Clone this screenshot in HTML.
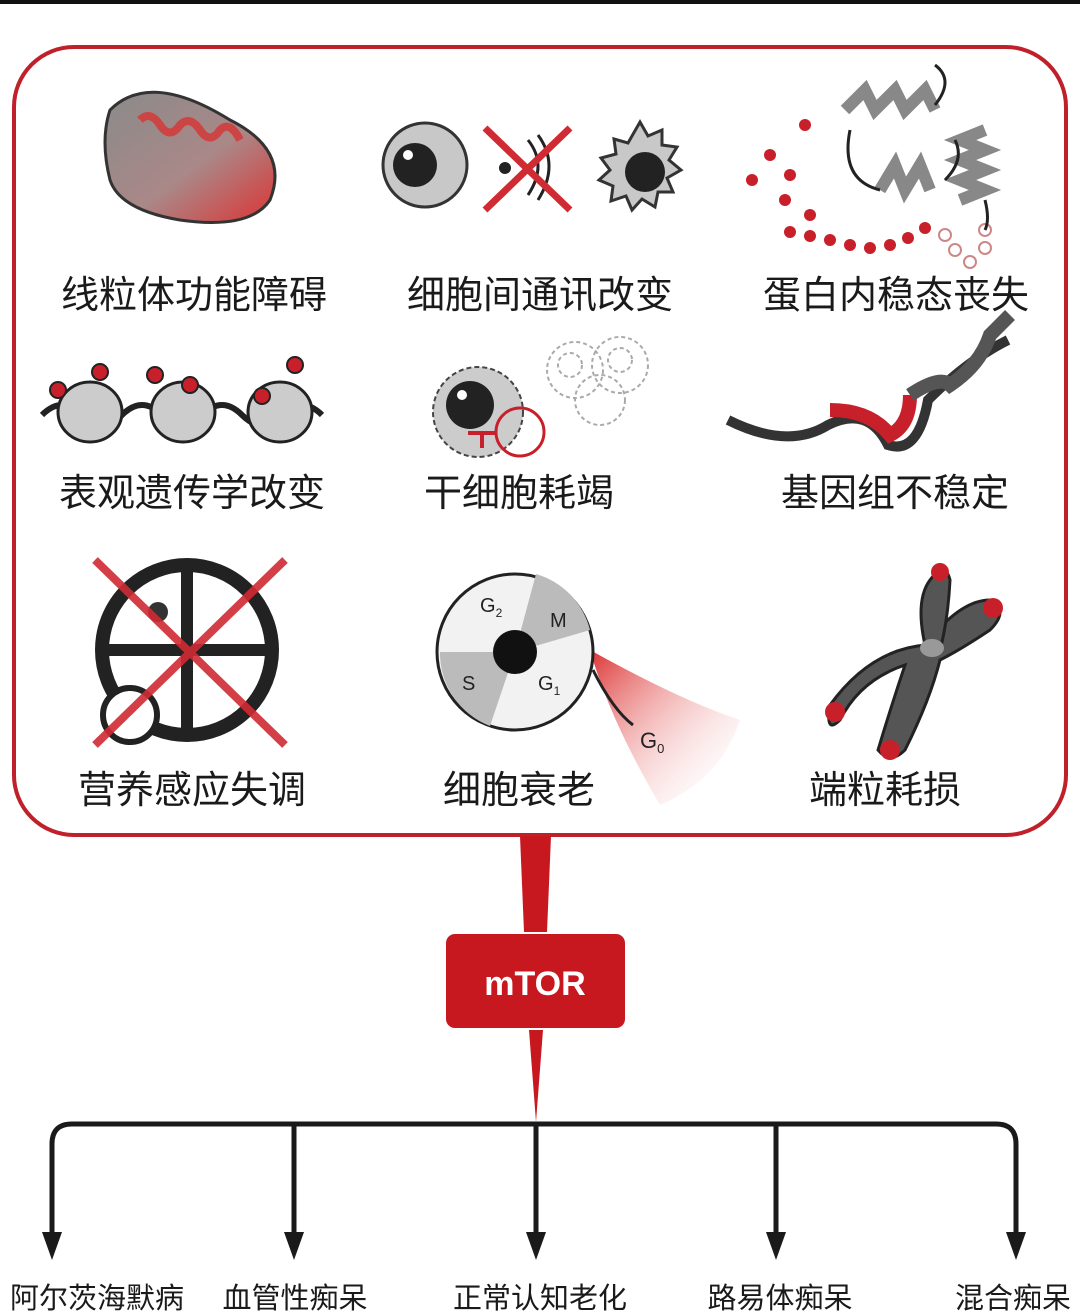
<!DOCTYPE html>
<html><head><meta charset="utf-8"><style>
html,body{margin:0;padding:0;background:#fff;}
svg{display:block;}
text{font-family:"Liberation Sans","Noto Sans CJK SC",sans-serif;}
</style></head><body>
<svg width="1080" height="1312" viewBox="0 0 1080 1312" xmlns="http://www.w3.org/2000/svg">
<defs>
<linearGradient id="mito" x1="0" y1="0" x2="1" y2="1"><stop offset="0" stop-color="#8a8a8a"/><stop offset="0.55" stop-color="#a88"/><stop offset="1" stop-color="#d33"/></linearGradient>
<linearGradient id="g0" x1="0" y1="0" x2="1" y2="1"><stop offset="0" stop-color="#d33"/><stop offset="1" stop-color="#fff" stop-opacity="0"/></linearGradient>
</defs>
<rect x="0" y="0" width="1080" height="4" fill="#111"/>
<rect x="14" y="47" width="1052" height="788" rx="60" fill="none" stroke="#c0202a" stroke-width="4"/>

<polygon points="520,836 551,836 547,932 524,932" fill="#c8181f"/>
<rect x="446" y="934" width="179" height="94" rx="9" fill="#c8181f"/>
<text x="535" y="995" font-size="34" font-weight="bold" fill="#fff" text-anchor="middle">mTOR</text>
<polygon points="529,1030 543,1030 536,1122" fill="#c8181f"/>
<path d="M52,1240 V1144 Q52,1124 72,1124 H996 Q1016,1124 1016,1144 V1240" fill="none" stroke="#1a1a1a" stroke-width="5"/>
<g stroke="#1a1a1a" stroke-width="5">
<line x1="294" y1="1124" x2="294" y2="1240"/><line x1="536" y1="1124" x2="536" y2="1240"/><line x1="776" y1="1124" x2="776" y2="1240"/></g>
<g fill="#1a1a1a">
<polygon points="42,1232 62,1232 52,1260"/><polygon points="284,1232 304,1232 294,1260"/><polygon points="526,1232 546,1232 536,1260"/><polygon points="766,1232 786,1232 776,1260"/><polygon points="1006,1232 1026,1232 1016,1260"/></g>

<path d="M110,110 Q150,70 230,120 Q290,150 270,200 Q250,230 180,220 Q120,210 110,180 Q100,140 110,110Z" fill="url(#mito)" stroke="#333" stroke-width="3"/>
<path d="M140,120 q10,-10 20,5 q10,15 20,0 q10,-10 20,5 q10,15 20,0 q10,-10 20,10" fill="none" stroke="#c44" stroke-width="8"/>
<circle cx="425" cy="165" r="42" fill="#c8c8c8" stroke="#333" stroke-width="3"/><circle cx="415" cy="165" r="22" fill="#222"/><circle cx="408" cy="155" r="5" fill="#fff"/>
<circle cx="505" cy="168" r="6" fill="#222"/>
<path d="M528,140 q20,25 0,55 M538,135 q22,30 0,65" fill="none" stroke="#222" stroke-width="3"/>
<path d="M485,128 L570,210 M570,128 L485,210" stroke="#d02a33" stroke-width="7"/>
<path d="M640,122 l8,14 14,-6 0,15 15,2 -8,13 12,10 -14,8 6,14 -15,0 -3,15 -13,-8 -10,11 -6,-14 -15,5 2,-15 -14,-6 11,-10 -9,-12 15,-4 -2,-15 14,4 z" fill="#c8c8c8" stroke="#333" stroke-width="3"/>
<circle cx="645" cy="172" r="20" fill="#222"/>
<g fill="#c8202a"><circle cx="805" cy="125" r="6"/><circle cx="770" cy="155" r="6"/><circle cx="790" cy="175" r="6"/><circle cx="752" cy="180" r="6"/><circle cx="785" cy="200" r="6"/><circle cx="810" cy="215" r="6"/><circle cx="790" cy="232" r="6"/><circle cx="810" cy="236" r="6"/><circle cx="830" cy="240" r="6"/><circle cx="850" cy="245" r="6"/><circle cx="870" cy="248" r="6"/><circle cx="890" cy="245" r="6"/><circle cx="908" cy="238" r="6"/><circle cx="925" cy="228" r="6"/></g>
<g fill="#fff" stroke="#c88" stroke-width="2"><circle cx="945" cy="235" r="6"/><circle cx="955" cy="250" r="6"/><circle cx="970" cy="262" r="6"/><circle cx="985" cy="248" r="6"/><circle cx="985" cy="230" r="6"/></g>
<path d="M845,110 l20,-20 10,20 20,-20 10,20 20,-20 10,20 M880,190 l15,-25 10,25 15,-25 10,25 M960,200 l25,-10 -25,-10 25,-10 -25,-10 25,-10 -25,-10 25,-10" fill="none" stroke="#888" stroke-width="12"/>
<path d="M935,65 q20,15 0,40 M850,130 q-10,50 30,60 M955,140 q10,20 -10,40 M985,200 q5,20 0,30" fill="none" stroke="#222" stroke-width="3"/>

<g stroke="#222" stroke-width="6" fill="none"><path d="M42,415 q20,-20 40,0 q20,20 40,0 q20,-20 40,0 q20,20 40,0 q20,-20 40,0 q20,20 40,0 q20,-20 40,0"/></g>
<g fill="#ccc" stroke="#222" stroke-width="3"><ellipse cx="90" cy="412" rx="32" ry="30"/><ellipse cx="183" cy="412" rx="32" ry="30"/><ellipse cx="280" cy="412" rx="32" ry="30"/></g>
<g fill="#c8202a" stroke="#222" stroke-width="2"><circle cx="58" cy="390" r="8"/><circle cx="100" cy="372" r="8"/><circle cx="155" cy="375" r="8"/><circle cx="190" cy="385" r="8"/><circle cx="262" cy="396" r="8"/><circle cx="295" cy="365" r="8"/></g>
<circle cx="478" cy="412" r="45" fill="#ccc" stroke="#444" stroke-width="2" stroke-dasharray="5,3"/>
<circle cx="470" cy="405" r="24" fill="#222"/><circle cx="462" cy="395" r="5" fill="#fff"/>
<circle cx="520" cy="432" r="24" fill="none" stroke="#c8202a" stroke-width="3"/>
<path d="M468,433 h28 M482,433 v15" stroke="#c8202a" stroke-width="4"/>
<g fill="none" stroke="#aaa" stroke-width="2" stroke-dasharray="4,3"><circle cx="575" cy="370" r="28"/><circle cx="620" cy="365" r="28"/><circle cx="600" cy="400" r="25"/><circle cx="570" cy="365" r="12"/><circle cx="620" cy="360" r="12"/></g>
<path d="M728,420 q60,30 100,5 q40,-20 60,20 q30,10 40,-45 q40,-40 80,-60" fill="none" stroke="#333" stroke-width="10"/>
<path d="M830,410 q40,0 60,25 q20,-10 20,-40" fill="none" stroke="#c8202a" stroke-width="14"/>
<path d="M910,395 q30,-20 40,-10 q30,-20 40,-50 q10,-10 20,-20" fill="none" stroke="#555" stroke-width="14"/>

<circle cx="187" cy="650" r="85" fill="#fff" stroke="#222" stroke-width="14"/>
<path d="M187,565 V735 M102,650 H272" stroke="#222" stroke-width="12"/>
<circle cx="158" cy="612" r="10" fill="#333"/><circle cx="130" cy="715" r="27" fill="#fff" stroke="#222" stroke-width="6"/>
<path d="M95,560 L285,745 M285,560 L95,745" stroke="#d02a33" stroke-width="8" opacity="0.9"/>
<path d="M590,650 Q680,700 740,720 Q720,780 660,805 Q610,720 590,650Z" fill="url(#g0)"/>
<circle cx="515" cy="652" r="78" fill="#f2f2f2" stroke="#222" stroke-width="3"/>
<path d="M515,652 L536,574 A78,78 0 0 1 590,630Z" fill="#bbb"/>
<path d="M515,652 L440,652 A78,78 0 0 0 490,726Z" fill="#bbb"/>
<circle cx="515" cy="652" r="22" fill="#111"/>
<text x="480" y="612" font-size="20" fill="#222">G<tspan font-size="12" dy="5">2</tspan></text>
<text x="550" y="627" font-size="20" fill="#222">M</text>
<text x="462" y="690" font-size="20" fill="#222">S</text>
<text x="538" y="690" font-size="20" fill="#222">G<tspan font-size="12" dy="5">1</tspan></text>
<path d="M593,670 q20,40 40,55" fill="none" stroke="#222" stroke-width="3"/>
<text x="640" y="748" font-size="22" fill="#222">G<tspan font-size="13" dy="5">0</tspan></text>
<g fill="#555" stroke="#222" stroke-width="3">
<path d="M830,705 Q870,650 925,645 Q960,600 990,600 Q1010,610 990,630 Q960,650 940,660 Q930,700 905,750 Q890,765 878,750 Q890,710 905,665 Q860,680 840,720 Q825,735 830,705Z"/>
<path d="M925,645 Q915,600 930,580 Q945,560 950,580 Q948,620 940,650Z"/></g>
<g fill="#c8202a"><circle cx="835" cy="712" r="10"/><circle cx="890" cy="750" r="10"/><circle cx="993" cy="608" r="10"/><circle cx="940" cy="572" r="9"/></g>
<ellipse cx="932" cy="648" rx="12" ry="9" fill="#999"/>

<g font-size="38" fill="#1a1a1a" text-anchor="middle">
<text x="194" y="308">线粒体功能障碍</text>
<text x="540" y="308">细胞间通讯改变</text>
<text x="896" y="308">蛋白内稳态丧失</text>
<text x="192" y="506">表观遗传学改变</text>
<text x="519" y="506">干细胞耗竭</text>
<text x="895" y="506">基因组不稳定</text>
<text x="192" y="803">营养感应失调</text>
<text x="519" y="803">细胞衰老</text>
<text x="885" y="803">端粒耗损</text>
</g>
<g font-size="29" fill="#1a1a1a" text-anchor="middle">
<text x="97" y="1308">阿尔茨海默病</text>
<text x="295" y="1308">血管性痴呆</text>
<text x="540" y="1308">正常认知老化</text>
<text x="780" y="1308">路易体痴呆</text>
<text x="1013" y="1308">混合痴呆</text>
</g>
</svg>
</body></html>
